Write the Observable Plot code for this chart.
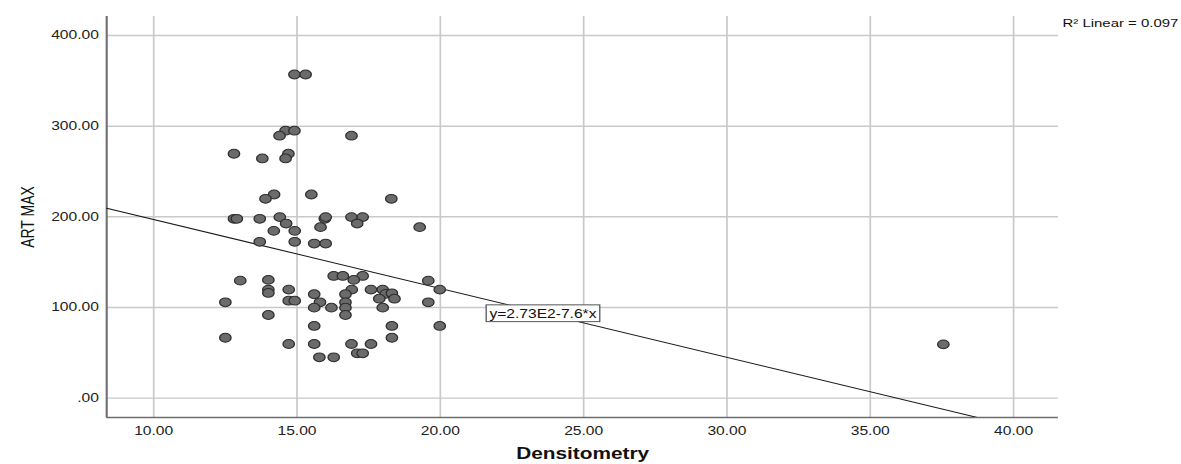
<!DOCTYPE html>
<html><head><meta charset="utf-8">
<script src="https://cdn.jsdelivr.net/npm/d3@7"></script>
<script src="https://cdn.jsdelivr.net/npm/@observablehq/plot@0.6"></script>
<style>
html,body{margin:0;padding:0;background:#fff;}
#chart svg{display:block;}
</style></head><body><div id="chart"></div>
<script>
// ---- data ----
const densitometry = [
  14.91, 15.30, 14.60, 14.91, 14.39, 16.90, 12.80, 14.70, 13.79, 14.60,
  14.20, 15.50, 13.90, 18.29, 12.80, 12.90, 13.70, 14.40, 14.62, 15.97,
  16.00, 16.90, 17.29, 17.10, 15.82, 19.28, 14.19, 14.92, 13.70, 14.92,
  15.60, 16.00, 16.28, 16.60, 17.29, 16.98, 13.02, 14.00, 19.58, 14.00,
  14.00, 14.71, 16.91, 17.58, 17.99, 19.98, 15.60, 16.69, 18.10, 18.31,
  17.87, 18.40, 12.50, 14.71, 14.92, 15.80, 16.69, 19.58, 15.60, 16.20,
  16.69, 17.99, 14.00, 16.69, 15.60, 18.31, 19.98, 12.50, 18.31, 14.71,
  15.60, 16.90, 17.58, 17.10, 17.29, 15.78, 16.28, 37.55
];
const artMax = [
  357, 357, 295, 295, 289.5, 289.5, 269.6, 269.6, 264.4, 264.4,
  224.6, 224.6, 219.9, 219.9, 197.8, 197.8, 197.8, 199.7, 192.6, 197.8,
  199.7, 199.7, 199.7, 192.6, 188.6, 188.6, 184.5, 184.5, 172.4, 172.4,
  170.5, 170.5, 134.8, 134.8, 134.8, 130.4, 129.6, 130.4, 129.6, 119.7,
  116.0, 119.7, 119.7, 119.7, 119.7, 119.7, 114.6, 114.6, 115.0, 115.6,
  109.7, 109.7, 105.7, 107.5, 107.5, 105.7, 105.7, 105.7, 99.8, 99.8,
  99.8, 99.8, 91.7, 91.7, 79.6, 79.6, 79.6, 66.6, 66.6, 59.7,
  59.7, 59.7, 59.7, 49.4, 49.4, 45.0, 45.0, 59.3
];
const xTicks = [10, 15, 20, 25, 30, 35, 40];
const yTicks = [0, 100, 200, 300, 400];
const xDomain = [8.36, 41.57];
const yDomain = [-21.4, 421];
const fitIntercept = 273;
const fitSlope = -7.6;
const fitLabel = "y=2.73E2-7.6*x";
const fitLabelAt = [23.58, 93.1];
const r2Label = "R\u00B2 Linear = 0.097";
const xTitle = "Densitometry";
const yTitle = "ART MAX";

// ---- layout ----
const W = 1181, H = 464;
const STRETCH = 1.3;           // reference is horizontally stretched
const w0 = Math.round(W / STRETCH);
const fmt = d3.format(".2f");
const tickFmt = d => d === 0 ? ".00" : fmt(d);

const points = densitometry.map((x, i) => ({x, y: artMax[i]}));
const fitLine = xDomain.map(x => ({x, y: fitIntercept + fitSlope * x}));

const svg = Plot.plot({
  width: w0,
  height: H,
  marginLeft: 106 / STRETCH,
  marginRight: (W - 1058) / STRETCH,
  marginTop: 16,
  marginBottom: 47,
  style: {fontFamily: "'Liberation Sans', Arial, sans-serif", fontSize: "12px", color: "#222", background: "#fff"},
  x: {domain: xDomain, ticks: xTicks, tickFormat: tickFmt, tickSize: 0, tickPadding: 8.5, label: null},
  y: {domain: yDomain, ticks: yTicks, tickFormat: tickFmt, tickSize: 0, tickPadding: 6, label: null},
  marks: [
    Plot.ruleX(xTicks, {stroke: "#c9c9c9", strokeWidth: 1.3}),
    Plot.ruleY(yTicks, {stroke: "#c9c9c9", strokeWidth: 1.4}),
    Plot.ruleX([xDomain[0]], {stroke: "#6e6e6e", strokeWidth: 1.6}),
    Plot.ruleY([yDomain[0]], {stroke: "#6e6e6e", strokeWidth: 1.6}),
    Plot.line(fitLine, {x: "x", y: "y", stroke: "#1a1a1a", strokeWidth: 1, clip: true}),
    Plot.dot(points, {x: "x", y: "y", r: 4.4, fill: "#6b6b6b", stroke: "#2e2e2e", strokeWidth: 1}),
    Plot.text([fitLabelAt], {x: d => d[0], y: d => d[1], text: () => fitLabel, fontSize: 12, fill: "#111", textAnchor: "middle", lineAnchor: "middle"}),
    Plot.text([r2Label], {frameAnchor: "top-right", textAnchor: "start", lineAnchor: "middle", dx: 3, dy: 6.5, fontSize: 11.5, fill: "#111"}),
    Plot.text([xTitle], {frameAnchor: "bottom", textAnchor: "middle", lineAnchor: "middle", dy: 36.5, fontSize: 16, fontWeight: "bold", fill: "#111"}),
    Plot.text([yTitle], {frameAnchor: "left", textAnchor: "middle", lineAnchor: "middle", rotate: -90, dx: -60, fontSize: 14, fill: "#111"})
  ]
});

svg.setAttribute("width", W);
svg.setAttribute("height", H);
svg.setAttribute("preserveAspectRatio", "none");
svg.style.width = W + "px";
svg.style.height = H + "px";
svg.style.maxWidth = "none";
document.getElementById("chart").appendChild(svg);

// white box with border around the fit equation label
d3.select(svg).selectAll("text").filter(function() { return this.textContent === fitLabel; })
  .each(function() {
    const bb = this.getBBox();
    const rect = document.createElementNS("http://www.w3.org/2000/svg", "rect");
    rect.setAttribute("x", bb.x - 2.5);
    rect.setAttribute("y", bb.y - 1.5);
    rect.setAttribute("width", bb.width + 5);
    rect.setAttribute("height", bb.height + 3);
    const tf = this.getAttribute("transform");
    if (tf) rect.setAttribute("transform", tf);
    rect.setAttribute("fill", "#fff");
    rect.setAttribute("stroke", "#555");
    rect.setAttribute("stroke-width", "1");
    this.parentNode.insertBefore(rect, this);
  });
</script>
</body></html>
